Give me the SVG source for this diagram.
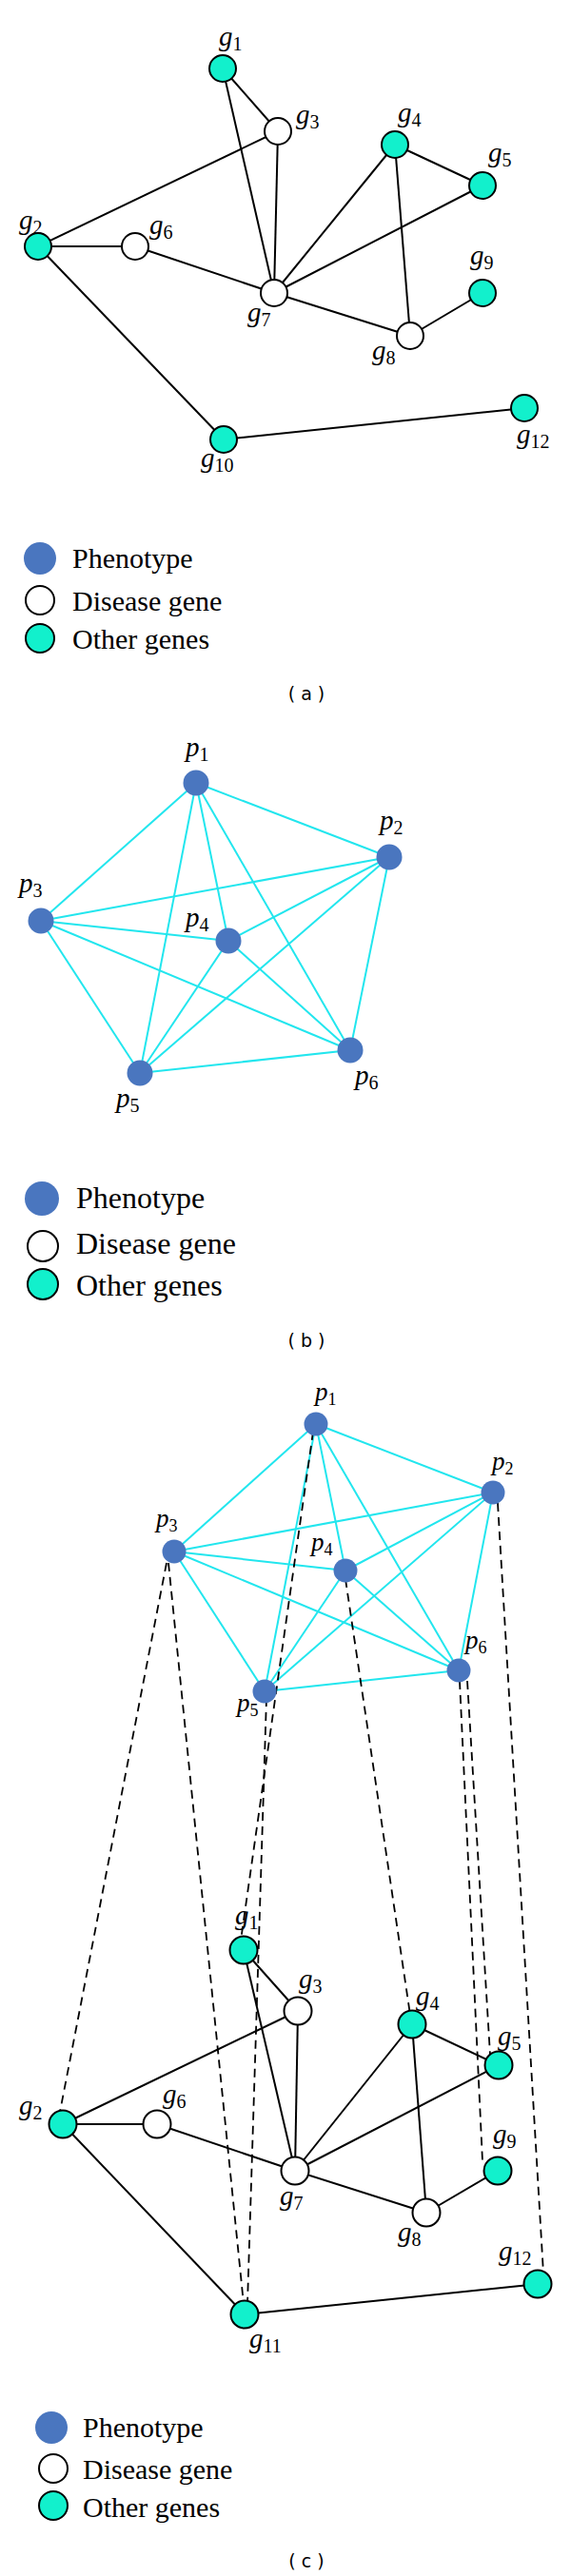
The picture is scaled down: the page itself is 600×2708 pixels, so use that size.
<svg xmlns="http://www.w3.org/2000/svg" width="600" height="2708" viewBox="0 0 600 2708">
<style>
.e{stroke:#000;stroke-width:2;fill:none}
.c{stroke:#22e6ee;stroke-width:2;fill:none}
.d{stroke:#000;stroke-width:1.8;fill:none;stroke-dasharray:9,6}
.gt{fill:#12f0cc;stroke:#000;stroke-width:2}
.gw{fill:#fff;stroke:#000;stroke-width:2}
.ph{fill:#4a76bf}
.lbl{font-family:"Liberation Serif",serif;font-style:italic;font-size:29px;fill:#000}
.lbs{font-family:"Liberation Serif",serif;font-style:italic;font-size:27px;fill:#000}
.sub{font-style:normal;font-size:20px}
.sub2{font-style:normal;font-size:18px}
.leg{font-family:"Liberation Serif",serif;font-size:30px;fill:#000}
.leg2{font-family:"Liberation Serif",serif;font-size:32px;fill:#000}
.cap{font-family:"DejaVu Sans",sans-serif;font-size:19px;fill:#000;text-anchor:middle}
</style>

<!-- Panel (a) -->
<g id="edges-a">
<line class="e" x1="234" y1="72" x2="292" y2="138"/>
<line class="e" x1="234" y1="72" x2="288" y2="308"/>
<line class="e" x1="292" y1="138" x2="288" y2="308"/>
<line class="e" x1="292" y1="138" x2="40" y2="259"/>
<line class="e" x1="40" y1="259" x2="142" y2="259"/>
<line class="e" x1="142" y1="259" x2="288" y2="308"/>
<line class="e" x1="40" y1="259" x2="235" y2="462"/>
<line class="e" x1="235" y1="462" x2="551" y2="429"/>
<line class="e" x1="288" y1="308" x2="415" y2="152"/>
<line class="e" x1="288" y1="308" x2="507" y2="195"/>
<line class="e" x1="415" y1="152" x2="507" y2="195"/>
<line class="e" x1="415" y1="152" x2="431" y2="353"/>
<line class="e" x1="288" y1="308" x2="431" y2="353"/>
<line class="e" x1="431" y1="353" x2="507" y2="308"/>
</g>
<g id="a-g1"><circle class="gt" cx="234" cy="72" r="14"/><text class="lbl" x="230" y="48">g<tspan class="sub" dy="5">1</tspan></text></g>
<g id="a-g2"><circle class="gt" cx="40" cy="259" r="14"/><text class="lbl" x="20" y="241">g<tspan class="sub" dy="5">2</tspan></text></g>
<g id="a-g3"><circle class="gw" cx="292" cy="138" r="14"/><text class="lbl" x="311" y="130">g<tspan class="sub" dy="5">3</tspan></text></g>
<g id="a-g4"><circle class="gt" cx="415" cy="152" r="14"/><text class="lbl" x="418" y="128">g<tspan class="sub" dy="5">4</tspan></text></g>
<g id="a-g5"><circle class="gt" cx="507" cy="195" r="14"/><text class="lbl" x="513" y="170">g<tspan class="sub" dy="5">5</tspan></text></g>
<g id="a-g6"><circle class="gw" cx="142" cy="259" r="14"/><text class="lbl" x="157" y="246">g<tspan class="sub" dy="5">6</tspan></text></g>
<g id="a-g7"><circle class="gw" cx="288" cy="308" r="14"/><text class="lbl" x="260" y="338">g<tspan class="sub" dy="5">7</tspan></text></g>
<g id="a-g8"><circle class="gw" cx="431" cy="353" r="14"/><text class="lbl" x="391" y="378">g<tspan class="sub" dy="5">8</tspan></text></g>
<g id="a-g9"><circle class="gt" cx="507" cy="308" r="14"/><text class="lbl" x="494" y="278">g<tspan class="sub" dy="5">9</tspan></text></g>
<g id="a-g10"><circle class="gt" cx="235" cy="462" r="14"/><text class="lbl" x="211" y="491">g<tspan class="sub" dy="5">10</tspan></text></g>
<g id="a-g12"><circle class="gt" cx="551" cy="429" r="14"/><text class="lbl" x="543" y="466">g<tspan class="sub" dy="5">12</tspan></text></g>
<g id="legend-a">
<circle class="ph" cx="42" cy="587" r="17"/><text class="leg" x="76" y="597">Phenotype</text>
<circle class="gw" cx="42" cy="631" r="15"/><text class="leg" x="76" y="642">Disease gene</text>
<circle class="gt" cx="42" cy="671" r="15"/><text class="leg" x="76" y="682">Other genes</text>
</g>
<text class="cap" x="322" y="736">( a )</text>

<!-- Panel (b) -->
<g id="edges-b">
<line class="c" x1="206" y1="823" x2="409" y2="901"/>
<line class="c" x1="206" y1="823" x2="43" y2="968"/>
<line class="c" x1="206" y1="823" x2="240" y2="989"/>
<line class="c" x1="206" y1="823" x2="147" y2="1128"/>
<line class="c" x1="206" y1="823" x2="368" y2="1104"/>
<line class="c" x1="409" y1="901" x2="43" y2="968"/>
<line class="c" x1="409" y1="901" x2="240" y2="989"/>
<line class="c" x1="409" y1="901" x2="147" y2="1128"/>
<line class="c" x1="409" y1="901" x2="368" y2="1104"/>
<line class="c" x1="43" y1="968" x2="240" y2="989"/>
<line class="c" x1="43" y1="968" x2="147" y2="1128"/>
<line class="c" x1="43" y1="968" x2="368" y2="1104"/>
<line class="c" x1="240" y1="989" x2="147" y2="1128"/>
<line class="c" x1="240" y1="989" x2="368" y2="1104"/>
<line class="c" x1="147" y1="1128" x2="368" y2="1104"/>
</g>
<g id="b-p1"><circle class="ph" cx="206" cy="823" r="13.5"/><text class="lbl" x="195" y="795">p<tspan class="sub" dy="5">1</tspan></text></g>
<g id="b-p2"><circle class="ph" cx="409" cy="901" r="13.5"/><text class="lbl" x="399" y="872">p<tspan class="sub" dy="5">2</tspan></text></g>
<g id="b-p3"><circle class="ph" cx="43" cy="968" r="13.5"/><text class="lbl" x="20" y="938">p<tspan class="sub" dy="5">3</tspan></text></g>
<g id="b-p4"><circle class="ph" cx="240" cy="989" r="13.5"/><text class="lbl" x="195" y="974">p<tspan class="sub" dy="5">4</tspan></text></g>
<g id="b-p5"><circle class="ph" cx="147" cy="1128" r="13.5"/><text class="lbl" x="122" y="1164">p<tspan class="sub" dy="5">5</tspan></text></g>
<g id="b-p6"><circle class="ph" cx="368" cy="1104" r="13.5"/><text class="lbl" x="373" y="1140">p<tspan class="sub" dy="5">6</tspan></text></g>
<g id="legend-b">
<circle class="ph" cx="44" cy="1260" r="18"/><text class="leg2" x="80" y="1270">Phenotype</text>
<circle class="gw" cx="45" cy="1310" r="16"/><text class="leg2" x="80" y="1318">Disease gene</text>
<circle class="gt" cx="45" cy="1350" r="16"/><text class="leg2" x="80" y="1362">Other genes</text>
</g>
<text class="cap" x="322" y="1416">( b )</text>

<!-- Panel (c) -->
<g id="edges-c">
<line class="c" x1="332" y1="1497" x2="518" y2="1569"/>
<line class="c" x1="332" y1="1497" x2="183" y2="1631"/>
<line class="c" x1="332" y1="1497" x2="363" y2="1651"/>
<line class="c" x1="332" y1="1497" x2="278" y2="1778"/>
<line class="c" x1="332" y1="1497" x2="482" y2="1756"/>
<line class="c" x1="518" y1="1569" x2="183" y2="1631"/>
<line class="c" x1="518" y1="1569" x2="363" y2="1651"/>
<line class="c" x1="518" y1="1569" x2="278" y2="1778"/>
<line class="c" x1="518" y1="1569" x2="482" y2="1756"/>
<line class="c" x1="183" y1="1631" x2="363" y2="1651"/>
<line class="c" x1="183" y1="1631" x2="278" y2="1778"/>
<line class="c" x1="183" y1="1631" x2="482" y2="1756"/>
<line class="c" x1="363" y1="1651" x2="278" y2="1778"/>
<line class="c" x1="363" y1="1651" x2="482" y2="1756"/>
<line class="c" x1="278" y1="1778" x2="482" y2="1756"/>
<line class="e" x1="256" y1="2050" x2="313" y2="2114"/>
<line class="e" x1="256" y1="2050" x2="310" y2="2282"/>
<line class="e" x1="313" y1="2114" x2="310" y2="2282"/>
<line class="e" x1="313" y1="2114" x2="66" y2="2233"/>
<line class="e" x1="66" y1="2233" x2="165" y2="2233"/>
<line class="e" x1="165" y1="2233" x2="310" y2="2282"/>
<line class="e" x1="66" y1="2233" x2="257" y2="2433"/>
<line class="e" x1="257" y1="2433" x2="566" y2="2401"/>
<line class="e" x1="310" y1="2282" x2="433" y2="2128"/>
<line class="e" x1="310" y1="2282" x2="524" y2="2171"/>
<line class="e" x1="433" y1="2128" x2="524" y2="2171"/>
<line class="e" x1="433" y1="2128" x2="448" y2="2326"/>
<line class="e" x1="310" y1="2282" x2="448" y2="2326"/>
<line class="e" x1="448" y1="2326" x2="523" y2="2282"/>
<line class="d" x1="175" y1="1643" x2="63" y2="2220"/>
<line class="d" x1="177" y1="1643" x2="256" y2="2422"/>
<line class="d" x1="329" y1="1505" x2="253" y2="2040"/>
<line class="d" x1="280" y1="1785" x2="260" y2="2422"/>
<line class="d" x1="363" y1="1660" x2="431" y2="2118"/>
<line class="d" x1="483" y1="1767" x2="507" y2="2272"/>
<line class="d" x1="491" y1="1767" x2="515" y2="2160"/>
<line class="d" x1="523" y1="1580" x2="571" y2="2390"/>
</g>
<g id="c-p1"><circle class="ph" cx="332" cy="1497" r="12.5"/><text class="lbs" x="331" y="1472">p<tspan class="sub2" dy="5">1</tspan></text></g>
<g id="c-p2"><circle class="ph" cx="518" cy="1569" r="12.5"/><text class="lbs" x="517" y="1545">p<tspan class="sub2" dy="5">2</tspan></text></g>
<g id="c-p3"><circle class="ph" cx="183" cy="1631" r="12.5"/><text class="lbs" x="164" y="1605">p<tspan class="sub2" dy="5">3</tspan></text></g>
<g id="c-p4"><circle class="ph" cx="363" cy="1651" r="12.5"/><text class="lbs" x="327" y="1630">p<tspan class="sub2" dy="5">4</tspan></text></g>
<g id="c-p5"><circle class="ph" cx="278" cy="1778" r="12.5"/><text class="lbs" x="249" y="1799">p<tspan class="sub2" dy="5">5</tspan></text></g>
<g id="c-p6"><circle class="ph" cx="482" cy="1756" r="12.5"/><text class="lbs" x="489" y="1733">p<tspan class="sub2" dy="5">6</tspan></text></g>
<g id="c-g1"><circle class="gt" cx="256" cy="2050" r="14.5"/><text class="lbl" x="247" y="2023">g<tspan class="sub" dy="5">1</tspan></text></g>
<g id="c-g2"><circle class="gt" cx="66" cy="2233" r="14.5"/><text class="lbl" x="20" y="2223">g<tspan class="sub" dy="5">2</tspan></text></g>
<g id="c-g3"><circle class="gw" cx="313" cy="2114" r="14.5"/><text class="lbl" x="314" y="2090">g<tspan class="sub" dy="5">3</tspan></text></g>
<g id="c-g4"><circle class="gt" cx="433" cy="2128" r="14.5"/><text class="lbl" x="437" y="2108">g<tspan class="sub" dy="5">4</tspan></text></g>
<g id="c-g5"><circle class="gt" cx="524" cy="2171" r="14.5"/><text class="lbl" x="523" y="2150">g<tspan class="sub" dy="5">5</tspan></text></g>
<g id="c-g6"><circle class="gw" cx="165" cy="2233" r="14.5"/><text class="lbl" x="171" y="2211">g<tspan class="sub" dy="5">6</tspan></text></g>
<g id="c-g7"><circle class="gw" cx="310" cy="2282" r="14.5"/><text class="lbl" x="294" y="2318">g<tspan class="sub" dy="5">7</tspan></text></g>
<g id="c-g8"><circle class="gw" cx="448" cy="2326" r="14.5"/><text class="lbl" x="418" y="2356">g<tspan class="sub" dy="5">8</tspan></text></g>
<g id="c-g9"><circle class="gt" cx="523" cy="2282" r="14.5"/><text class="lbl" x="518" y="2253">g<tspan class="sub" dy="5">9</tspan></text></g>
<g id="c-g11"><circle class="gt" cx="257" cy="2433" r="14.5"/><text class="lbl" x="262" y="2468">g<tspan class="sub" dy="5">11</tspan></text></g>
<g id="c-g12"><circle class="gt" cx="565" cy="2401" r="14.5"/><text class="lbl" x="524" y="2376">g<tspan class="sub" dy="5">12</tspan></text></g>
<g id="legend-c">
<circle class="ph" cx="54" cy="2552" r="17"/><text class="leg" x="87" y="2562">Phenotype</text>
<circle class="gw" cx="56" cy="2595" r="15"/><text class="leg" x="87" y="2606">Disease gene</text>
<circle class="gt" cx="56" cy="2634" r="15"/><text class="leg" x="87" y="2646">Other genes</text>
</g>
<text class="cap" x="322" y="2699">( c )</text>
</svg>
